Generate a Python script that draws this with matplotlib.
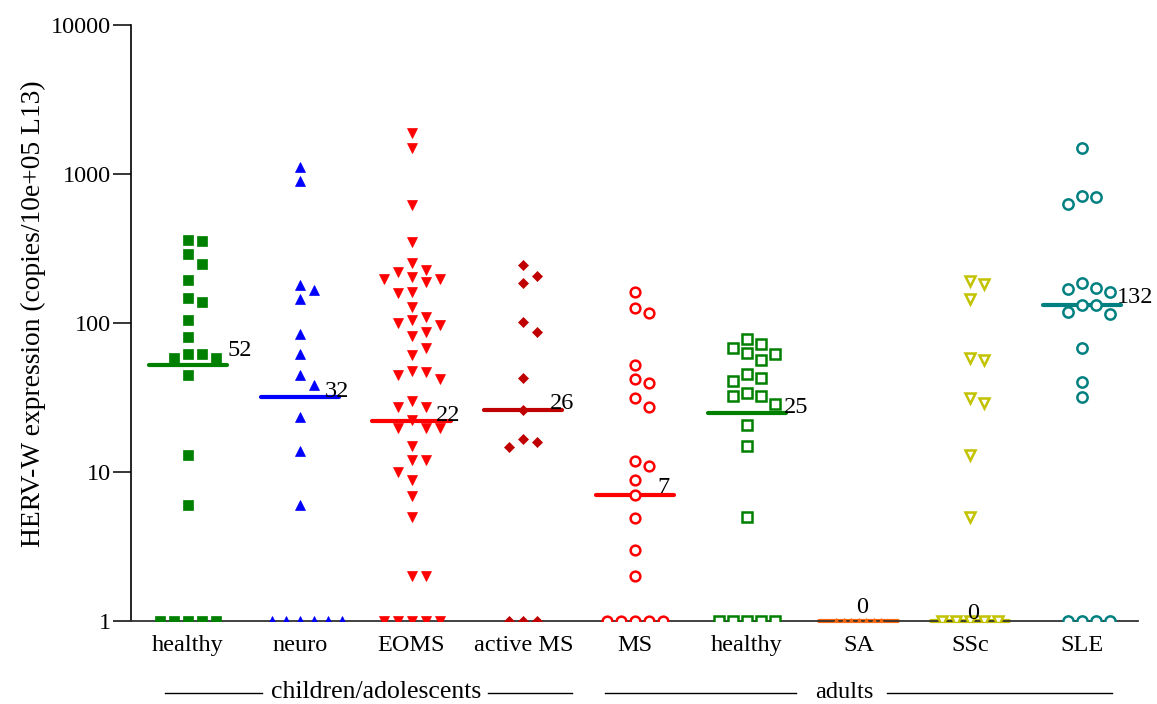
import numpy as np
import matplotlib
matplotlib.use("Agg")
import matplotlib.pyplot as plt
from matplotlib.ticker import NullLocator
from matplotlib.transforms import blended_transform_factory

plt.rcParams['font.family'] = ['Liberation Serif', 'DejaVu Serif']

# ---- data (copies per 10e+05 L13; 0 = below detection, drawn on the axis floor) ----
categories = ['healthy', 'neuro', 'EOMS', 'active MS', 'MS',
              'healthy', 'SA', 'SSc', 'SLE']

healthy_children = [360, 357, 289, 250, 194, 147, 139, 105, 80, 62, 58, 58, 62,
                    45, 13, 6, 0, 0, 0, 0, 0]
neuro = [1114, 898, 180, 166, 144, 84, 62, 45, 38.5, 23.5, 13.8, 6,
         0, 0, 0, 0, 0, 0]
eoms = [1890, 1490, 620, 352, 254, 227, 221, 205, 196, 196, 187, 162, 160, 129,
        109, 105, 100, 97, 87.5, 82, 67.6, 61, 47.9, 46.7, 44.8, 41.9, 30, 27.2,
        27.2, 22.3, 19.6, 19.6, 19.6, 14.9, 12, 12, 10, 8.9, 6.9, 5, 2, 2,
        0, 0, 0, 0, 0]
active_ms = [245, 208, 185, 101, 87, 42.6, 26, 16.7, 15.8, 14.8, 0, 0, 0]
ms_adults = [161.5, 127, 116, 52, 42.3, 39.4, 31.5, 27.5, 11.9, 10.9, 8.8, 7,
             4.9, 3, 2, 0, 0, 0, 0, 0]
healthy_adults = [78, 72, 68.3, 62.7, 61.8, 56.5, 45.5, 42.6, 41, 33.8, 32.5,
                  32.5, 28.6, 20.7, 14.9, 5, 0, 0, 0, 0, 0]
sa = [0, 0, 0, 0, 0, 0, 0]
ssc = [192, 183, 145, 58, 56.5, 31.2, 28.9, 13, 5, 0, 0, 0, 0, 0]
sle = [1500, 712, 704, 629, 185, 171, 168, 162, 132, 132, 119, 115, 67.6, 40,
       31.7, 0, 0, 0, 0]

medians = [52, 32, 22, 26, 7, 25, 0, 0, 132]

y_ticks = [1, 10, 100, 1000, 10000]
y_tick_labels = ['1', '10', '100', '1000', '10000']
y_label = 'HERV-W expression (copies/10e+05 L13)'
cohorts = ['children/adolescents', 'adults']

# ---- styles / layout ----
series = [healthy_children, neuro, eoms, active_ms, ms_adults,
          healthy_adults, sa, ssc, sle]
colors = ['#008000', '#0000FF', '#FF0000', '#C00000', '#FF0000',
          '#008000', '#FF6A10', '#C2C200', '#008080']
markers = ['s', '^', 'v', 'D', 'o', 's', '^', 'v', 'o']
filled = [True, True, True, True, False, False, True, False, False]
msizes = [7.6, 7.8, 7.8, 5.2, 7.0, 7.2, 4.2, 7.2, 7.4]
slot_px = [14, 14, 14, 14, 14, 14, 7.5, 14, 14]
label_dx = [0.357, 0.223, 0.214, 0.241, 0.196, 0.33, -0.02, -0.03, 0.31]
label_dy_px = [9, 0, 0, 1, 2, 0, 8, 2, 2]
floor = 1.0

W, H = 1157, 704
fig = plt.figure(figsize=(W / 100, H / 100), dpi=100)
ax = fig.add_axes([131 / W, 83 / H, 1007 / W, 596 / H])
ax.set_yscale('log')
ax.set_ylim(1, 10000)
ax.set_xlim(-0.51, 8.5)

for side in ('top', 'right'):
    ax.spines[side].set_visible(False)
ax.spines['left'].set_linewidth(1.2)
ax.spines['left'].set_color('black')
ax.spines['bottom'].set_linewidth(1.3)
ax.spines['bottom'].set_color('#333333')

ax.set_yticks(y_ticks)
ax.set_yticklabels(y_tick_labels)
ax.yaxis.set_minor_locator(NullLocator())
ax.tick_params(axis='y', direction='out', length=13, width=1.1,
               pad=1.5, labelsize=17.5)
ax.set_xticks(range(len(categories)))
ax.set_xticklabels(categories)
ax.tick_params(axis='x', length=0, pad=10, labelsize=17.5)

x_px_per_unit = 1007 / (8.5 + 0.51)


def swarm(y_disp, thresh):
    """Discrete-slot beeswarm (highest values placed first)."""
    order = np.argsort(-y_disp, kind='stable')
    cands = [0] + [s for j in range(1, 40) for s in (j, -j)]
    placed = []
    slots = np.zeros(len(y_disp), dtype=int)
    for i in order:
        for s in cands:
            if all(abs(y_disp[i] - yy) >= thresh for ss, yy in placed if ss == s):
                break
        slots[i] = s
        placed.append((s, y_disp[i]))
    return slots


for gi, vals in enumerate(series):
    v = np.asarray(vals, dtype=float)
    yplot = np.where(v > 0, v, floor)
    y_disp = ax.transData.transform(np.column_stack([np.zeros_like(yplot), yplot]))[:, 1]
    slots = swarm(y_disp, 12.5)
    xs = gi + slots * slot_px[gi] / x_px_per_unit
    col = colors[gi]
    if filled[gi]:
        ax.plot(xs, yplot, linestyle='none', marker=markers[gi], ms=msizes[gi],
                mfc=col, mec=col, mew=0.5, zorder=3)
    else:
        ax.plot(xs, yplot, linestyle='none', marker=markers[gi], ms=msizes[gi],
                mfc='white', mec=col, mew=1.8, zorder=3)

    med = medians[gi]
    my = med if med > 0 else floor
    ax.plot([gi - 0.35, gi + 0.35], [my, my], color=col, lw=3.0,
            solid_capstyle='round', zorder=2, clip_on=False)
    ax.annotate(f'{med:g}', xy=(gi + label_dx[gi], my), xycoords='data',
                xytext=(0, label_dy_px[gi] * 0.72), textcoords='offset points',
                ha='left', va='baseline', fontsize=17.5, zorder=4,
                annotation_clip=False)

fig.text(33 / W, 1 - 313.5 / H, y_label, rotation=90, ha='center',
         va='center', fontsize=19.8)

# cohort brackets under the category labels
def px_to_x(px):
    return (px - 188) / x_px_per_unit

bt = blended_transform_factory(ax.transData, fig.transFigure)
yb = 1 - 692.5 / H
for x0, x1 in [(165, 262), (488, 572), (605, 796), (887, 1112)]:
    ax.plot([px_to_x(x0), px_to_x(x1)], [yb, yb], color='black', lw=1.0,
            transform=bt, clip_on=False)
ax.text(px_to_x(376.5), yb, cohorts[0], transform=bt, ha='center',
        va='center', fontsize=18.5)
ax.text(px_to_x(844), yb, cohorts[1], transform=bt, ha='center',
        va='center', fontsize=17.5)

fig.savefig('out.png', dpi=100, facecolor='white')
